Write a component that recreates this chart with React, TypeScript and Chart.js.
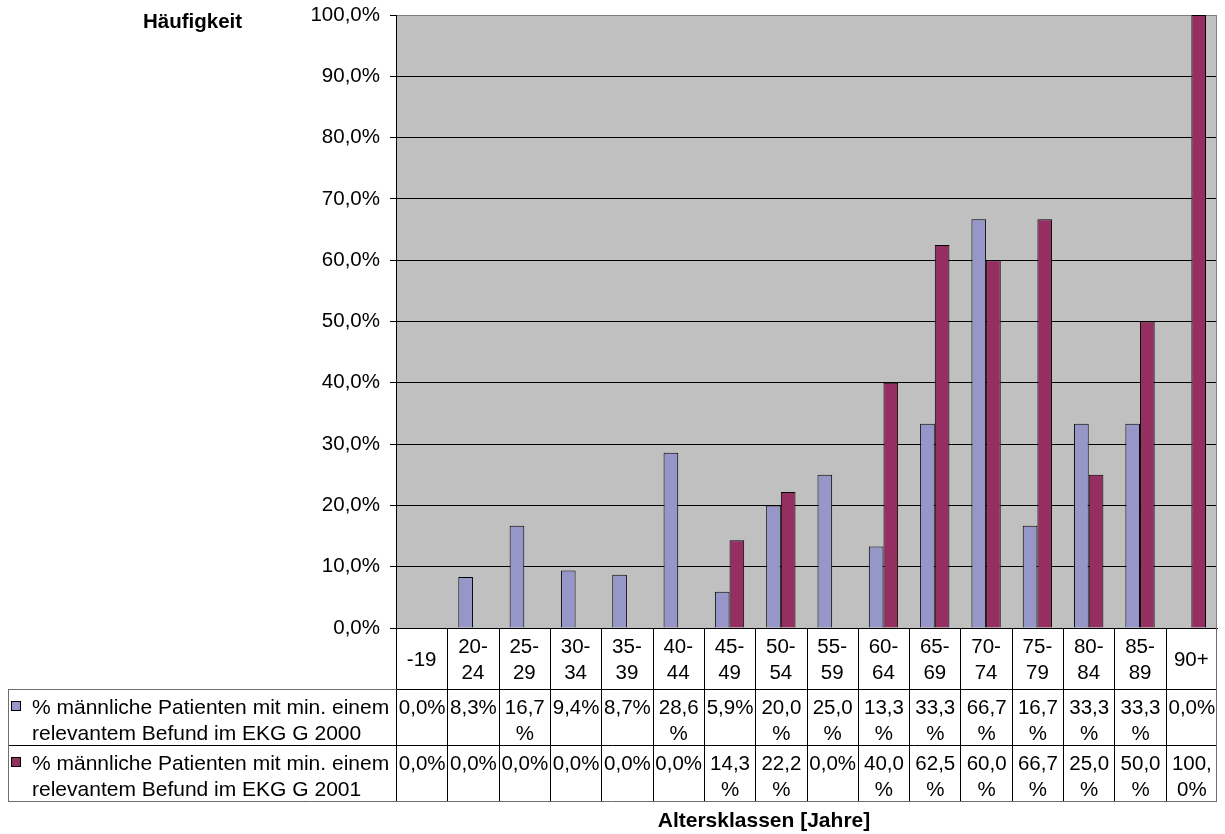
import React, { useEffect, useRef } from "react";
import { Chart, registerables } from "chart.js";

Chart.register(...registerables);

// Age classes (x categories)
const categories: string[] = [
  "-19", "20-24", "25-29", "30-34", "35-39", "40-44", "45-49", "50-54",
  "55-59", "60-64", "65-69", "70-74", "75-79", "80-84", "85-89", "90+",
];

// Share of male patients with at least one relevant ECG finding, in percent
const values2000: number[] = [0, 8.3, 16.7, 9.4, 8.7, 28.6, 5.9, 20.0, 25.0, 13.3, 33.3, 66.7, 16.7, 33.3, 33.3, 0];
const values2001: number[] = [0, 0, 0, 0, 0, 0, 14.3, 22.2, 0, 40.0, 62.5, 60.0, 66.7, 25.0, 50.0, 100.0];

// Series names as they appear in the data table legend (two lines each)
const seriesName2000: string[] = ["% männliche Patienten mit min. einem", "relevantem Befund im EKG G 2000"];
const seriesName2001: string[] = ["% männliche Patienten mit min. einem", "relevantem Befund im EKG G 2001"];

// Y axis range / tick step
const yMin = 0;
const yMax = 100;
const yStep = 10;

const yTitle = "Häufigkeit";
const xTitle = "Altersklassen [Jahre]";

const COLOR_2000 = "#9696C8";
const COLOR_2001 = "#952F62";
const PLOT_BG = "#C0C0C0";
const FONT_FAMILY = '"Liberation Sans", Arial, sans-serif';

const fmtPct = (v: number) => v.toFixed(1).replace(".", ",") + "%";

// Break a cell text the way a narrow spreadsheet cell does: after "-" or ",", or before "%"
function wrapCell(ctx: CanvasRenderingContext2D, text: string, maxW: number): string[] {
  if (ctx.measureText(text).width <= maxW) return [text];
  let best = -1;
  for (let i = 1; i < text.length; i++) {
    const prev = text[i - 1];
    const cur = text[i];
    if (prev === "-" || prev === "," || cur === "%") {
      if (ctx.measureText(text.slice(0, i)).width <= maxW) best = i;
    }
  }
  if (best < 0) return [text];
  return [text.slice(0, best), text.slice(best)];
}

const tablePlugin = {
  id: "excelDataTable",
  beforeDraw(chart: any) {
    const { ctx, chartArea } = chart;
    ctx.save();
    ctx.fillStyle = PLOT_BG;
    ctx.fillRect(chartArea.left, chartArea.top, chartArea.right - chartArea.left, chartArea.bottom - chartArea.top);
    ctx.restore();
  },
  afterDraw(chart: any) {
    const { ctx, chartArea } = chart;
    const xScale = chart.scales.x;
    const n = categories.length;
    const catW = (chartArea.right - chartArea.left) / n;

    const headerTop = chartArea.bottom;
    const row1Top = 689;
    const row2Top = 745;
    const tableBottom = 801;
    const tableLeft = 8;
    const right = chartArea.right;

    ctx.save();

    // right border of the plot area
    ctx.strokeStyle = "#808080";
    ctx.lineWidth = 1;
    ctx.beginPath();
    ctx.moveTo(right - 0.5, chartArea.top);
    ctx.lineTo(right - 0.5, chartArea.bottom);
    ctx.stroke();

    // inner grid lines of the table
    ctx.strokeStyle = "#000";
    ctx.beginPath();
    for (let i = 1; i < n; i++) {
      const bx = Math.round(xScale.getPixelForValue(i) - catW / 2) + 0.5;
      ctx.moveTo(bx, headerTop);
      ctx.lineTo(bx, tableBottom);
    }
    const lx = Math.round(chartArea.left) + 0.5;
    ctx.moveTo(lx, headerTop);
    ctx.lineTo(lx, tableBottom);
    ctx.moveTo(lx, row1Top + 0.5);
    ctx.lineTo(right, row1Top + 0.5);
    ctx.moveTo(tableLeft, row2Top + 0.5);
    ctx.lineTo(right, row2Top + 0.5);
    ctx.stroke();

    // outer border of the table
    ctx.strokeStyle = "#6E6E6E";
    ctx.beginPath();
    ctx.moveTo(tableLeft + 0.5, row1Top + 0.5);
    ctx.lineTo(lx, row1Top + 0.5);
    ctx.moveTo(tableLeft + 0.5, row1Top);
    ctx.lineTo(tableLeft + 0.5, tableBottom + 1);
    ctx.moveTo(tableLeft, tableBottom + 0.5);
    ctx.lineTo(right, tableBottom + 0.5);
    ctx.moveTo(right - 0.5, headerTop);
    ctx.lineTo(right - 0.5, tableBottom + 1);
    ctx.stroke();

    ctx.fillStyle = "#000";
    ctx.textAlign = "center";
    ctx.textBaseline = "alphabetic";
    ctx.font = `20.5px ${FONT_FAMILY}`;
    const maxW = catW - 2;

    // category header row
    categories.forEach((c, i) => {
      const cx = xScale.getPixelForValue(i);
      const lines = wrapCell(ctx, c, maxW);
      if (lines.length === 1) {
        ctx.fillText(lines[0], cx, 666);
      } else {
        ctx.fillText(lines[0], cx, 653);
        ctx.fillText(lines[1], cx, 679);
      }
    });

    // value rows
    const rows: { top: number; vals: number[] }[] = [
      { top: row1Top, vals: values2000 },
      { top: row2Top, vals: values2001 },
    ];
    rows.forEach((r) => {
      r.vals.forEach((v, i) => {
        const cx = xScale.getPixelForValue(i) + 0.5;
        const lines = wrapCell(ctx, fmtPct(v), maxW);
        lines.forEach((ln, k) => ctx.fillText(ln, cx, r.top + 25 + k * 26));
      });
    });

    // legend keys + series names
    const legendRows: { top: number; color: string; name: string[] }[] = [
      { top: row1Top, color: COLOR_2000, name: seriesName2000 },
      { top: row2Top, color: COLOR_2001, name: seriesName2001 },
    ];
    ctx.textAlign = "left";
    ctx.font = `21px ${FONT_FAMILY}`;
    legendRows.forEach((r) => {
      ctx.fillStyle = r.color;
      ctx.fillRect(11, r.top + 12, 10, 10);
      ctx.strokeStyle = "#000";
      ctx.strokeRect(11.5, r.top + 12.5, 9, 9);
      ctx.fillStyle = "#000";
      ctx.fillText(r.name[0], 32, r.top + 25);
      ctx.fillText(r.name[1], 32, r.top + 51);
    });

    // axis titles
    ctx.font = `bold 20.5px ${FONT_FAMILY}`;
    ctx.fillText(yTitle, 143, 28);
    ctx.textAlign = "center";
    ctx.font = `bold 21px ${FONT_FAMILY}`;
    ctx.fillText(xTitle, 764, 827);

    ctx.restore();
  },
};

export default function App() {
  const canvasRef = useRef<HTMLCanvasElement | null>(null);

  useEffect(() => {
    if (!canvasRef.current) return;
    const chart = new Chart(canvasRef.current, {
      type: "bar",
      data: {
        labels: categories,
        datasets: [
          {
            label: seriesName2000.join(" "),
            data: values2000,
            backgroundColor: COLOR_2000,
            borderColor: "#000",
            borderWidth: 1,
            categoryPercentage: 2 / 3.5,
            barPercentage: 1,
          },
          {
            label: seriesName2001.join(" "),
            data: values2001,
            backgroundColor: COLOR_2001,
            borderColor: "#000",
            borderWidth: 1,
            categoryPercentage: 2 / 3.5,
            barPercentage: 1,
          },
        ],
      },
      options: {
        animation: false,
        responsive: false,
        devicePixelRatio: 1,
        layout: { padding: { top: 15, right: 8, bottom: 206, left: 0 } },
        plugins: {
          legend: { display: false },
          tooltip: { enabled: false },
          title: { display: false },
        },
        scales: {
          x: {
            ticks: { display: false },
            grid: { display: false },
            border: { display: true, color: "#000", width: 1 },
            afterFit: (scale: any) => {
              scale.height = 0;
              scale.paddingLeft = 0;
              scale.paddingRight = 0;
            },
          },
          y: {
            min: yMin,
            max: yMax,
            ticks: {
              stepSize: yStep,
              autoSkip: false,
              padding: 10,
              color: "#000",
              font: { family: FONT_FAMILY, size: 20.5 },
              callback: (v: any) => fmtPct(Number(v)),
            },
            grid: {
              color: (c: any) => (c.tick && c.tick.value === yMax ? "#808080" : "#000"),
              tickColor: "#000",
              tickLength: 6,
              lineWidth: 1,
            },
            border: { display: true, color: "#000", width: 1 },
            afterFit: (scale: any) => {
              scale.width = 396;
              scale.paddingTop = 0;
              scale.paddingBottom = 0;
            },
          },
        },
      },
      plugins: [tablePlugin],
    } as any);
    return () => chart.destroy();
  }, []);

  return (
    <div style={{ position: "fixed", left: 0, top: 0, width: 1225, height: 834, background: "#fff" }}>
      <canvas ref={canvasRef} width={1225} height={834} style={{ display: "block" }} />
    </div>
  );
}
